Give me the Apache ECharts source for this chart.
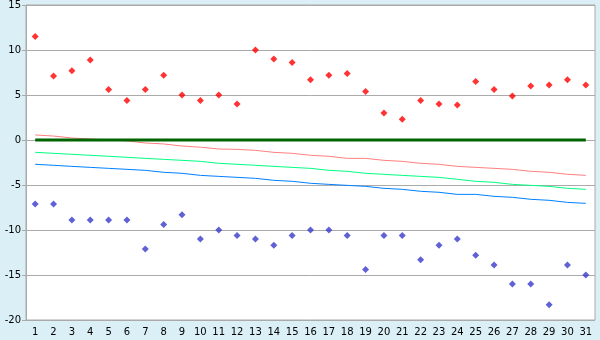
<!DOCTYPE html>
<html>
<head>
<meta charset="utf-8">
<script src="https://cdn.jsdelivr.net/npm/echarts@6/dist/echarts.min.js"></script>
<style>
html,body{margin:0;padding:0;background:#daf0f6;}
#c{width:600px;height:340px;}
</style>
</head>
<body>
<div id="c"></div>
<script>
const days = ['1','2','3','4','5','6','7','8','9','10','11','12','13','14','15','16','17','18','19','20','21','22','23','24','25','26','27','28','29','30','31'];
const maxTemps = [11.5,7.1,7.7,8.9,5.6,4.4,5.6,7.2,5.0,4.4,5.0,4.0,10.0,9.0,8.6,6.7,7.2,7.4,5.4,3.0,2.3,4.4,4.0,3.9,6.5,5.6,4.9,6.0,6.1,6.7,6.1];
const minTemps = [-7.1,-7.1,-8.9,-8.9,-8.9,-8.9,-12.1,-9.4,-8.3,-11.0,-10.0,-10.6,-11.0,-11.7,-10.6,-10.0,-10.0,-10.6,-14.4,-10.6,-10.6,-13.3,-11.7,-11.0,-12.8,-13.9,-16.0,-16.0,-18.3,-13.9,-15.0];
const normalMax = [0.56,0.44,0.22,0.11,0.0,-0.1,-0.33,-0.44,-0.67,-0.8,-1.0,-1.04,-1.15,-1.37,-1.48,-1.7,-1.81,-2.04,-2.04,-2.26,-2.37,-2.59,-2.7,-2.93,-3.04,-3.15,-3.26,-3.48,-3.59,-3.81,-3.93];
const normalMean = [-1.37,-1.48,-1.59,-1.7,-1.81,-1.92,-2.04,-2.15,-2.26,-2.37,-2.59,-2.7,-2.81,-2.93,-3.04,-3.15,-3.37,-3.48,-3.7,-3.81,-3.93,-4.04,-4.15,-4.37,-4.59,-4.7,-4.93,-5.04,-5.15,-5.37,-5.48];
const normalMin = [-2.7,-2.81,-2.93,-3.04,-3.15,-3.26,-3.37,-3.59,-3.7,-3.93,-4.04,-4.15,-4.26,-4.48,-4.59,-4.81,-4.93,-5.04,-5.15,-5.37,-5.48,-5.7,-5.81,-6.04,-6.04,-6.26,-6.37,-6.59,-6.7,-6.93,-7.04];
const zeroLine = [0,0,0,0,0,0,0,0,0,0,0,0,0,0,0,0,0,0,0,0,0,0,0,0,0,0,0,0,0,0,0];
const yTicks = {min:-20, max:15, interval:5};

const chart = echarts.init(document.getElementById('c'), null, {renderer:'canvas'});
const font = 'DejaVu Sans';
function lineSeries(data, color, width, z){
  return {type:'line', data:data, symbol:'none', silent:true, animation:false, z:z,
    lineStyle:{color:color, width:width}};
}
chart.setOption({
  animation:false,
  backgroundColor:'#daf0f6',
  grid:{left:26, right:5, top:5, bottom:20, show:true, backgroundColor:'#ffffff', borderColor:'#aaaaaa', borderWidth:1},
  xAxis:{type:'category', data:days, boundaryGap:true,
    axisLine:{lineStyle:{color:'#aaaaaa', width:1}},
    axisTick:{alignWithLabel:true, length:5, lineStyle:{color:'#000000'}},
    axisLabel:{color:'#000', fontFamily:font, fontSize:10, margin:7, interval:0},
    splitLine:{show:false}},
  yAxis:{type:'value', min:yTicks.min, max:yTicks.max, interval:yTicks.interval,
    axisLine:{show:true, lineStyle:{color:'#aaaaaa'}},
    axisTick:{show:true, length:4, lineStyle:{color:'#aaaaaa'}},
    axisLabel:{color:'#000', fontFamily:font, fontSize:10, margin:5},
    splitLine:{lineStyle:{color:'#aaaaaa', width:1}}},
  series:[
    lineSeries(normalMax, '#ff8080', 1, 2),
    lineSeries(normalMean, '#00ff80', 1, 2),
    lineSeries(normalMin, '#0080ff', 1, 2),
    lineSeries(zeroLine, '#006400', 3, 3),
    {type:'scatter', data:maxTemps, symbol:'diamond', symbolSize:7, z:4,
      itemStyle:{color:'#ff0000'}},
    {type:'scatter', data:minTemps, symbol:'diamond', symbolSize:7, z:4,
      itemStyle:{color:'#3a3acc'}}
  ]
});
</script>
</body>
</html>
